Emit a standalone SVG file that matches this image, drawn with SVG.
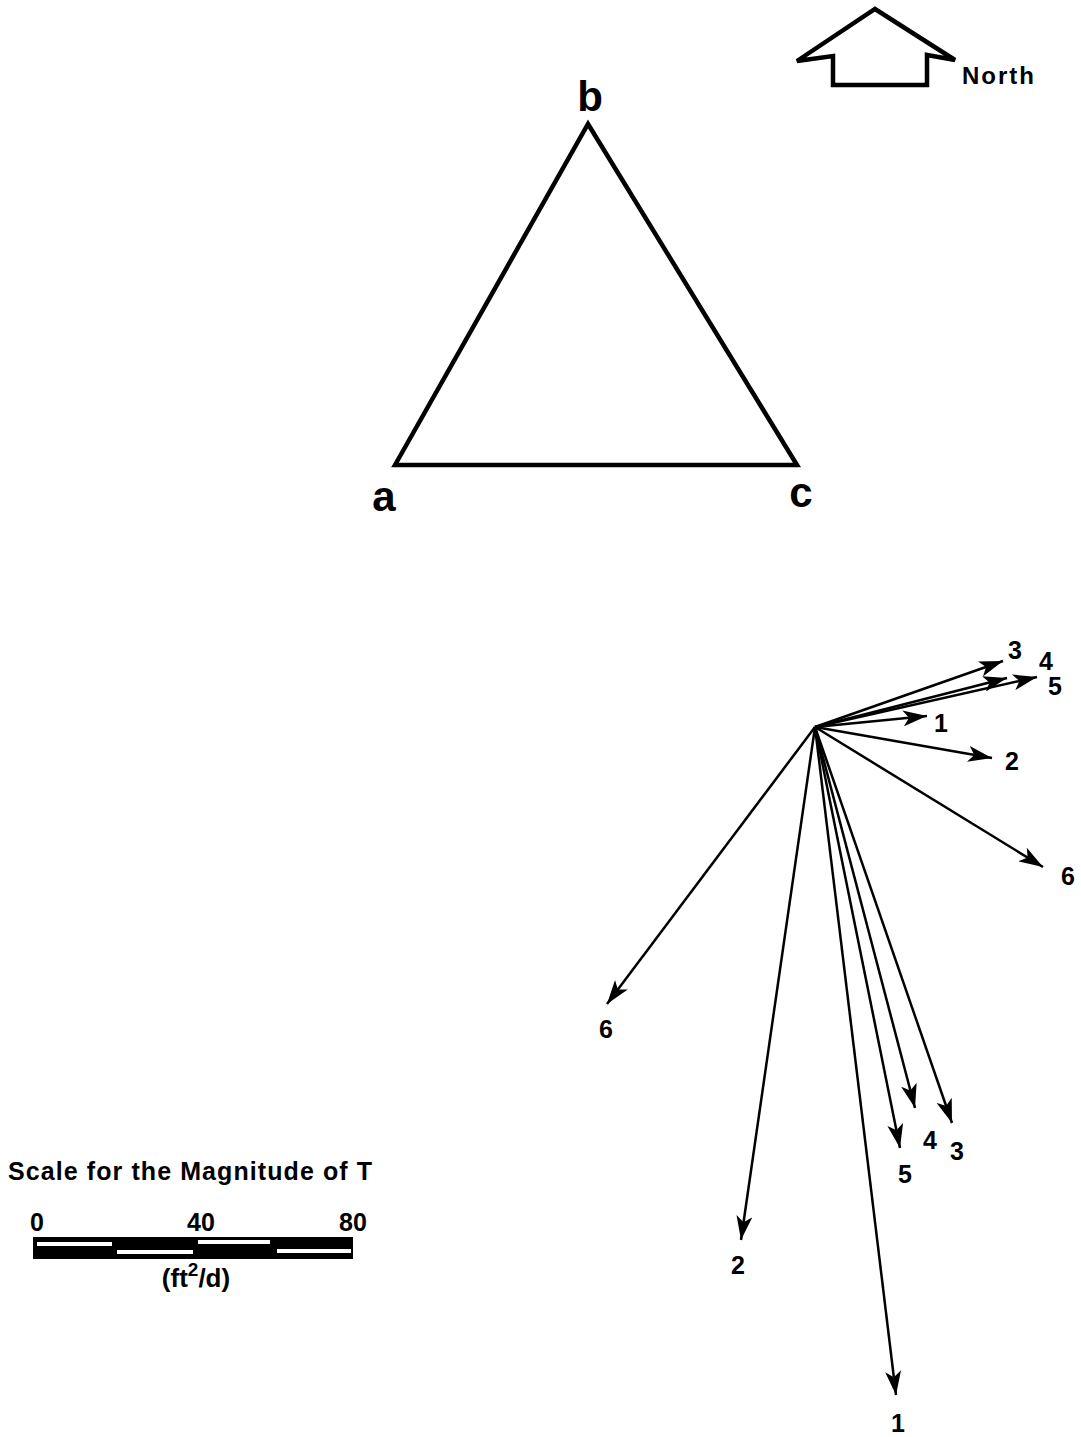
<svg xmlns="http://www.w3.org/2000/svg" width="1081" height="1437" viewBox="0 0 1081 1437">
<style>
.t{font-family:"Liberation Sans",Arial,sans-serif;fill:#000;font-weight:bold}
.lbl{font-size:25px}
.v{stroke:#000;stroke-width:2.5;fill:none;marker-end:url(#ah)}
</style>
<defs>
<marker id="ah" markerUnits="userSpaceOnUse" markerWidth="26" markerHeight="16" refX="24" refY="8" orient="auto">
<path d="M0,0 L24,8 L0,16 L6,8 Z" fill="#000"/>
</marker>
</defs>
<rect width="1081" height="1437" fill="#fff"/>
<g id="north">
<polygon points="797,61 875,9 955,60 927,55 927,85 833,85 833,56" fill="none" stroke="#000" stroke-width="4.5" stroke-linejoin="miter"/>
<text class="t" x="962" y="84" font-size="24" textLength="72" lengthAdjust="spacing">North</text>
</g>
<g id="triangle">
<polygon points="395,465 588,124 797,465" fill="none" stroke="#000" stroke-width="4.5"/>
<text class="t" x="590" y="111" font-size="42" text-anchor="middle">b</text>
<text class="t" x="384" y="511" font-size="42" text-anchor="middle">a</text>
<text class="t" x="801" y="507" font-size="42" text-anchor="middle">c</text>
</g>
<g id="connectors">
<line class="v" x1="815" y1="727" x2="1003" y2="661"/>
<line class="v" x1="815" y1="727" x2="1007" y2="678"/>
<line class="v" x1="815" y1="727" x2="1037" y2="677"/>
<line class="v" x1="815" y1="727" x2="927" y2="716"/>
<line class="v" x1="815" y1="727" x2="992" y2="758"/>
<line class="v" x1="815" y1="727" x2="1043" y2="867"/>
<line class="v" x1="815" y1="727" x2="607" y2="1004"/>
<line class="v" x1="815" y1="727" x2="741" y2="1240"/>
<line class="v" x1="815" y1="727" x2="896" y2="1395"/>
<line class="v" x1="815" y1="727" x2="900" y2="1148"/>
<line class="v" x1="815" y1="727" x2="915" y2="1108"/>
<line class="v" x1="815" y1="727" x2="952" y2="1123"/>
</g>
<g id="labels">
<text class="t lbl" x="1015" y="659" text-anchor="middle">3</text>
<text class="t lbl" x="1046" y="670" text-anchor="middle">4</text>
<text class="t lbl" x="1055" y="695" text-anchor="middle">5</text>
<text class="t lbl" x="941" y="732" text-anchor="middle">1</text>
<text class="t lbl" x="1012" y="770" text-anchor="middle">2</text>
<text class="t lbl" x="1068" y="885" text-anchor="middle">6</text>
<text class="t lbl" x="606" y="1038" text-anchor="middle">6</text>
<text class="t lbl" x="738" y="1274" text-anchor="middle">2</text>
<text class="t lbl" x="898" y="1432" text-anchor="middle">1</text>
<text class="t lbl" x="905" y="1183" text-anchor="middle">5</text>
<text class="t lbl" x="930" y="1149" text-anchor="middle">4</text>
<text class="t lbl" x="957" y="1160" text-anchor="middle">3</text>
</g>
<g id="scale">
<text class="t" x="8" y="1180" font-size="25" textLength="364" lengthAdjust="spacing">Scale for the Magnitude of T</text>
<text class="t" x="37" y="1231" font-size="25" text-anchor="middle">0</text>
<text class="t" x="201" y="1231" font-size="25" text-anchor="middle">40</text>
<text class="t" x="353" y="1231" font-size="25" text-anchor="middle">80</text>
<rect x="33" y="1237" width="320" height="22" fill="#000"/>
<rect x="37" y="1242" width="75" height="4" fill="#fff"/>
<rect x="117" y="1250" width="76" height="4" fill="#fff"/>
<rect x="198" y="1240" width="72" height="4" fill="#fff"/>
<rect x="277" y="1249" width="74" height="4" fill="#fff"/>
<text class="t" x="196" y="1287" font-size="26" text-anchor="middle">(ft<tspan font-size="19" dy="-11">2</tspan><tspan dy="11">/d)</tspan></text>
</g>
</svg>
